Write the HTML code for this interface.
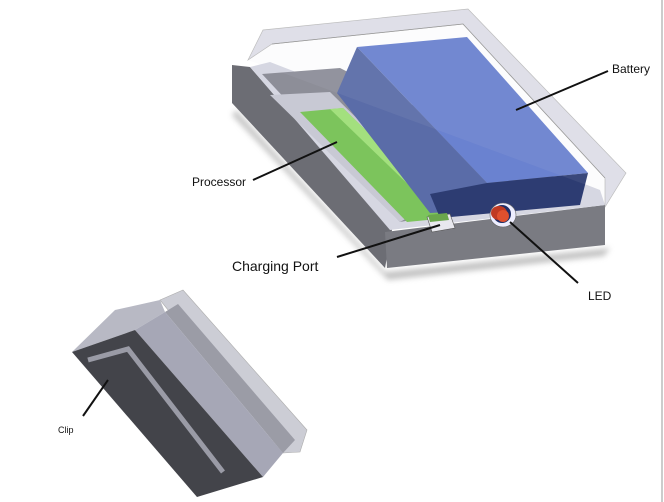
<!DOCTYPE html>
<html><head><style>
html,body{margin:0;padding:0;background:#fff;width:664px;height:502px;overflow:hidden}
svg{display:block}
text{font-family:"Liberation Sans",sans-serif;fill:#111}
</style></head><body>
<svg width="664" height="502" viewBox="0 0 664 502">
<defs><filter id="b"><feGaussianBlur stdDeviation="3"/></filter></defs>
<polygon points="236,110 385,272 610,248 604,256 388,280 232,115" fill="#888" opacity="0.5" filter="url(#b)"/>
<polygon points="232,65 250,67 392,230 385,268 232,103" fill="#6c6d74"/>
<polygon points="385,232 605,205 605,245 387,268" fill="#7a7b82"/>
<polygon points="250,67 270,62 600,190 605,205 390,230" fill="#d6d7e2"/>
<polygon points="262,74 340,68 580,190 400,222" fill="#8d8e98"/>
<polygon points="270,95 330,92 440,200 400,222" fill="#c8c9d4"/>
<polygon points="300,112 343,108 430,193 448,218 407,222" fill="#7cc45c"/>
<polygon points="330,109 343,108 432,194 420,196" fill="#a3e07e"/>
<polygon points="357,47 467,37 588,173 487,183" fill="#6a82d0"/>
<polygon points="357,47 487,183 487,210 430,213 337,93" fill="#5a6ca8"/>
<polygon points="430,194 487,183 588,173 580,205 440,218" fill="#2d3c72"/>
<polygon points="427,217 450,214 455,228 432,232" fill="#e8e8ee" stroke="#555" stroke-width="0.6"/>
<polygon points="428,215 447,213 449,220 430,222" fill="#6aa74c"/>
<ellipse cx="503" cy="215" rx="13" ry="12" fill="#eef" stroke="#666" stroke-width="0.6"/>
<ellipse cx="502" cy="214" rx="9" ry="9" fill="#1f2d66"/>
<ellipse cx="499" cy="213" rx="8" ry="7" fill="#c03a22"/>
<ellipse cx="503" cy="216" rx="6" ry="6" fill="#e0502e"/>
<polygon points="248,60 263,30 468,9 626,173 605,207 600,190" fill="#dcdde8" opacity="0.08"/>
<path d="M248,60 L263,30 L468,9 L626,173 L605,207 L605,178 L463,24 L272,44 Z" fill="#c8c9d8" opacity="0.55" stroke="#888" stroke-width="0.7"/>
<polyline points="272,44 463,24 605,178" fill="none" stroke="#999" stroke-width="0.7"/>
<polygon points="160,300 183,290 307,430 300,452 283,453" fill="#c0c1cb" opacity="0.8" stroke="#999" stroke-width="0.6"/>
<polygon points="165,312 178,304 295,440 283,453" fill="#9b9ca6"/>
<polygon points="72,352 115,310 160,300 165,312 135,330" fill="#b8b9c4"/>
<polygon points="135,330 165,312 283,453 263,477" fill="#a6a7b6"/>
<polygon points="72,352 135,330 263,477 197,497" fill="#43444a"/>
<polyline points="88,360 128,349 223,472" fill="none" stroke="#9a9ba6" stroke-width="5"/>
<g stroke="#111" stroke-width="2">
<line x1="608" y1="71" x2="516" y2="110"/>
<line x1="253" y1="180" x2="337" y2="142"/>
<line x1="337" y1="257" x2="440" y2="225"/>
<line x1="578" y1="283" x2="510" y2="222"/>
<line x1="83" y1="416" x2="108" y2="380"/>
</g>
<line x1="662" y1="0" x2="662" y2="502" stroke="#999" stroke-width="1"/>
<text x="612" y="73" font-size="12">Battery</text>
<text x="192" y="186" font-size="12">Processor</text>
<text x="232" y="271" font-size="14">Charging Port</text>
<text x="588" y="300" font-size="12">LED</text>
<text x="58" y="433" font-size="9">Clip</text>
</svg>
</body></html>
